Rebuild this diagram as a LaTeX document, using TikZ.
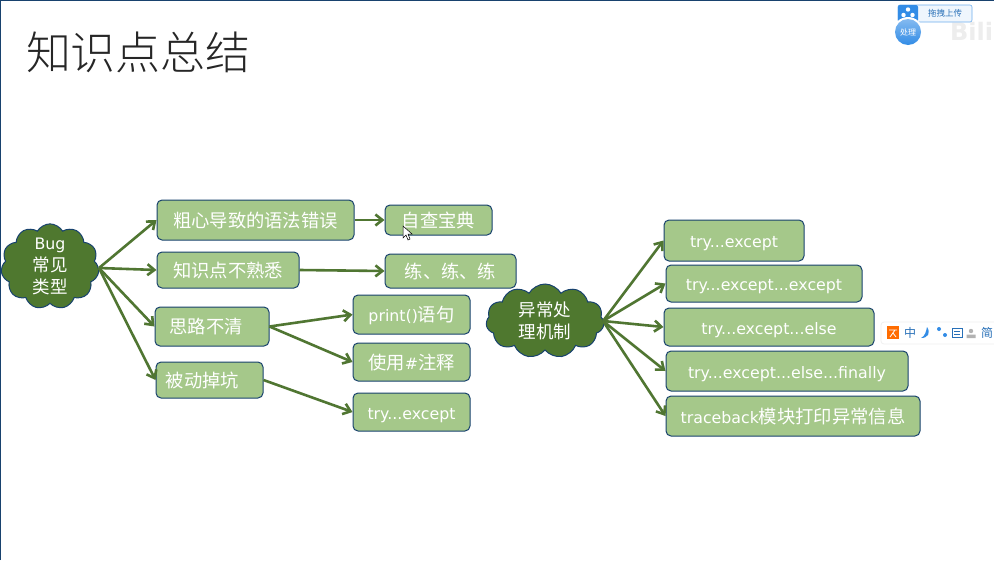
\documentclass[tikz,border=0pt]{standalone}
\usepackage{fontspec}
\setmainfont{DejaVu Sans}
\newfontfamily\cjk{Noto Sans CJK SC}
\newfontfamily\cjklight{Noto Sans CJK SC Light}
\newcommand{\zh}[1]{{\cjk\fontsize{18.3}{22}\selectfont #1}}
\newcommand{\zhs}[1]{{\cjk\fontsize{17.5}{22}\selectfont #1}}
\usepackage{xcolor}
\usetikzlibrary{arrows.meta,shapes.symbols}
\definecolor{mygreen}{RGB}{165,200,138}
\definecolor{mydark}{RGB}{79,120,47}
\definecolor{myline}{RGB}{24,66,110}
\definecolor{myarrow}{RGB}{80,118,50}
\definecolor{myblue}{RGB}{50,140,230}
\begin{document}
\begin{tikzpicture}[
    x=1pt, y=-1pt,
    box/.style={rectangle, draw=myline, line width=1pt, rounded corners=5pt, fill=mygreen, inner sep=0pt, text height=15pt, text depth=1pt, align=center, text=white, font=\fontsize{15.8}{20}\selectfont},
    puff/.style={cloud, cloud puffs=11, cloud puff arc=120, cloud ignores aspect, draw=myline, line width=1pt, fill=mydark, inner sep=0pt, align=center, text=white, font=\fontsize{15.8}{22}\selectfont},
    arrow/.style={-{Straight Barb[length=7pt,width=11pt]}, myarrow, line width=2.6pt},
]
    \useasboundingbox (0,0) rectangle (994,560);
    \fill[white] (0,0) rectangle (994,560);
    \draw[myline, line width=1.2pt] (0.5,560) -- (0.5,0.5) -- (994,0.5);

    % Title
    \node[font=\cjklight\fontsize{45}{50}\selectfont, text=black!85] (title) at (138.5,52) {知识点总结};

    % Bug types
    \node[puff, minimum width=98pt, minimum height=76pt] (bug) at (50,266.5) {Bug\\\zhs{常见}\\\zhs{类型}};
    \node[box, minimum width=197pt, minimum height=40pt] (typo) at (255.5,220) {\zh{粗心导致的语法错误}};
    \node[box, minimum width=142pt, minimum height=36pt] (know) at (228,270) {\zh{知识点不熟悉}};
    \node[box, minimum width=114pt, minimum height=39pt] (idea) at (212,326.5) {\zh{思路不清}\hspace{12pt}};
    \node[box, minimum width=107pt, minimum height=36pt] (pit) at (209.5,380) {\zh{被动掉坑}\hspace{14pt}};
    \node[box, minimum width=107pt, minimum height=30pt] (book) at (438.5,220) {\zh{自查宝典}};
    \node[box, minimum width=131pt, minimum height=34pt] (drill) at (450.5,271) {\zh{练、练、练}};
    \node[box, minimum width=117pt, minimum height=39pt] (print) at (411.5,314.5) {print()\zh{语句}};
    \node[box, minimum width=117pt, minimum height=38pt] (note) at (411.5,362) {\zh{使用}\#\zh{注释}};
    \node[box, minimum width=117pt, minimum height=38pt] (tryone) at (411.5,412) {try...except};

    % Exception handling
    \node[puff, minimum width=118pt, minimum height=74pt] (handle) at (545,321) {\zhs{异常处}\\\zhs{理机制}};
    \node[box, minimum width=140pt, minimum height=41pt] (ta) at (734,240.5) {try...except};
    \node[box, minimum width=196pt, minimum height=37pt] (tb) at (764,283.5) {try...except...except};
    \node[box, minimum width=210pt, minimum height=38pt] (tc) at (769,327) {try...except...else};
    \node[box, minimum width=242pt, minimum height=40pt] (td) at (787,371) {try...except...else...finally};
    \node[box, minimum width=254pt, minimum height=40pt] (te) at (793,416) {traceback\zh{模块打印异常信息}};

    % Connectors
    \coordinate (bugout) at (99,268);
    \coordinate (handleout) at (603,321);
    \draw[arrow] (bugout) -- (typo.west);
    \draw[arrow] (bugout) -- (know.west);
    \draw[arrow] (bugout) -- (idea.west);
    \draw[arrow] (bugout) -- (pit.west);
    \draw[arrow] (typo.east) -- (book.west);
    \draw[arrow] (know.east) -- (drill.west);
    \draw[arrow] (idea.east) -- (print.west);
    \draw[arrow] (idea.east) -- (note.west);
    \draw[arrow] (pit.east) -- (tryone.west);
    \draw[arrow] (handleout) -- (ta.west);
    \draw[arrow] (handleout) -- (tb.west);
    \draw[arrow] (handleout) -- (tc.west);
    \draw[arrow] (handleout) -- (td.west);
    \draw[arrow] (handleout) -- (te.west);

    % Mouse pointer
    \draw[black, fill=white, line width=0.5pt] (403,226) -- (403,238) -- (406,235) -- (408,240) -- (410,239) -- (408,234) -- (412,234) -- cycle;

    % Upload widget
    \node[font=\bfseries\fontsize{24}{26}\selectfont, text=black!7, inner sep=0pt] (wm) at (971.5,31) {Bili};
    \draw[myblue!70, fill=myblue!8, line width=0.6pt, rounded corners=2pt] (898,5) rectangle (972,22);
    \fill[myblue, rounded corners=2pt] (898,5) rectangle (918,22);
    \fill[white] (908,9.5) circle (2.2) (903.5,15) circle (2.2) (912.5,15) circle (2.2);
    \node[font=\cjk\fontsize{8.5}{9}\selectfont, text=myblue!80!black] (upload) at (945,13.5) {拖拽上传};
    \fill[white] (908,32) circle (15);
    \shade[top color=myblue!60, bottom color=myblue] (908,32) circle (13);
    \node[font=\cjk\fontsize{8}{9}\selectfont, text=white] (badge) at (908,32) {处理};

    % Input bar
    \draw[black!6, fill=white, line width=0.8pt, rounded corners=3pt] (881,322) rectangle (1000,344);
    \fill[orange!85!red] (887,326) rectangle (899,339);
    \draw[white, line width=0.8pt] (889,330) -- (897,330) (895,330) -- (890,337) (893,333) -- (896,337);
    \node[font=\cjk\fontsize{12}{13}\selectfont, text=myblue!80!black] (ime) at (910,332.5) {中};
    \fill[myblue] (927,327) .. controls (931,333) and (928,338) .. (921,338) .. controls (925,336) and (926,332) .. (927,327);
    \fill[myblue] (939,329) circle (2) (945,335) circle (2);
    \draw[myblue!80!black, line width=1pt] (952,328) rectangle (962,337);
    \draw[myblue!80!black, line width=0.8pt] (954,331) -- (960,331) (954,334) -- (960,334);
    \fill[black!30] (971,331) circle (2.2) (966.5,338) rectangle (975.5,334.5);
    \node[font=\cjk\fontsize{12}{13}\selectfont, text=myblue!80!black] (simp) at (987,332.5) {简};
\end{tikzpicture}
\end{document}
